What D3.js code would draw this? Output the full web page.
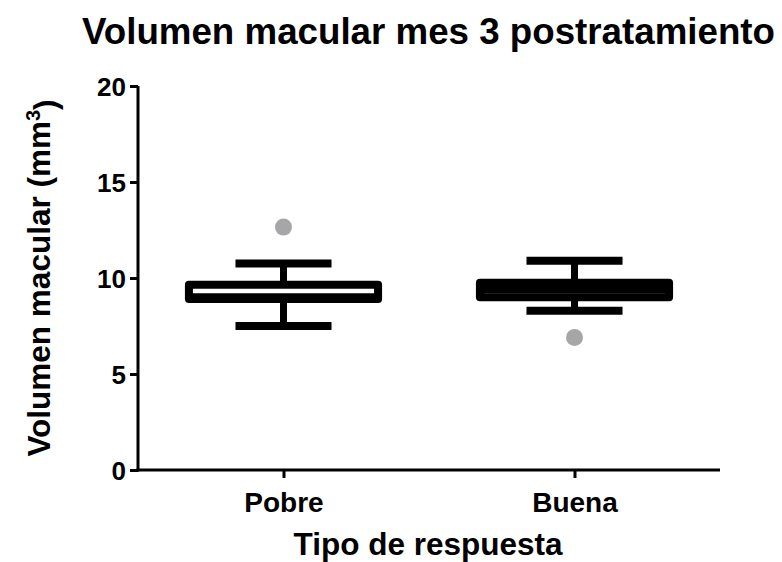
<!DOCTYPE html>
<html>
<head>
<meta charset="utf-8">
<script src="https://cdn.jsdelivr.net/npm/d3@7"></script>
<style>
  body { margin: 0; background: #fff; }
  text { font-family: "Liberation Sans", Arial, sans-serif; font-weight: bold; fill: #000; }
</style>
</head>
<body>
<div id="chart"></div>
<script>
// box plot values (mm3)
var categories = ["Pobre", "Buena"];
var whiskerLow = [7.5, 8.3];
var q1 = [8.9, 9.0];
var median = [9.0, 9.4];
var q3 = [9.65, 9.75];
var whiskerHigh = [10.75, 10.9];
var outliers = [[12.65], [6.9]];
var yTicks = [0, 5, 10, 15, 20];

var width = 782, height = 562;
var plotL = 138, plotR = 720, plotT = 86, plotB = 470;

var svg = d3.select("#chart").append("svg")
    .attr("width", width)
    .attr("height", height);

var x = d3.scalePoint()
    .domain(categories)
    .range([plotL, plotR])
    .padding(0.5);

var y = d3.scaleLinear()
    .domain([0, 20])
    .range([plotB, plotT]);

var step = x.step();
var boxW = step * 0.65;
var capW = step * 0.33;

// axes
var yAxis = svg.append("g")
    .attr("transform", "translate(" + plotL + ",0)")
    .call(d3.axisLeft(y).tickValues(yTicks).tickSize(8).tickPadding(4));
yAxis.select(".domain").attr("stroke-width", 3).attr("d", "M0," + (plotB + 1.5) + "V" + plotT);
yAxis.selectAll(".tick line").attr("stroke-width", 3);
yAxis.selectAll(".tick text").style("font-size", "26px").attr("dy", "0.36em");

var xAxis = svg.append("g")
    .attr("transform", "translate(0," + plotB + ")")
    .call(d3.axisBottom(x).tickSize(8).tickPadding(14));
xAxis.select(".domain").attr("stroke-width", 3).attr("d", "M" + (plotL - 1.5) + ",0H" + plotR);
xAxis.selectAll(".tick line").attr("stroke-width", 3);
xAxis.selectAll(".tick text").style("font-size", "28px");

// boxes
var g = svg.append("g");
categories.forEach(function (c, i) {
    var cx = x(c);
    // whiskers
    g.append("line")
        .attr("x1", cx).attr("x2", cx)
        .attr("y1", y(whiskerHigh[i])).attr("y2", y(q3[i]))
        .attr("stroke", "#000").attr("stroke-width", 7);
    g.append("line")
        .attr("x1", cx).attr("x2", cx)
        .attr("y1", y(q1[i])).attr("y2", y(whiskerLow[i]))
        .attr("stroke", "#000").attr("stroke-width", 7);
    [whiskerHigh[i], whiskerLow[i]].forEach(function (v) {
        g.append("line")
            .attr("x1", cx - capW / 2).attr("x2", cx + capW / 2)
            .attr("y1", y(v)).attr("y2", y(v))
            .attr("stroke", "#000").attr("stroke-width", 8);
    });
    g.append("rect")
        .attr("x", cx - boxW / 2)
        .attr("y", y(q3[i]))
        .attr("width", boxW)
        .attr("height", y(q1[i]) - y(q3[i]))
        .attr("fill", "#fff")
        .attr("stroke", "#000")
        .attr("stroke-width", 8)
        .attr("stroke-linejoin", "round");
    g.append("line")
        .attr("x1", cx - boxW / 2).attr("x2", cx + boxW / 2)
        .attr("y1", y(median[i])).attr("y2", y(median[i]))
        .attr("stroke", "#000").attr("stroke-width", 8);
    outliers[i].forEach(function (v) {
        g.append("circle")
            .attr("cx", cx).attr("cy", y(v))
            .attr("r", 8.5)
            .attr("fill", "#a6a6a8");
    });
});

// titles
svg.append("text")
    .attr("x", 82).attr("y", 44)
    .attr("textLength", 693).attr("lengthAdjust", "spacingAndGlyphs")
    .style("font-size", "36px")
    .text("Volumen macular mes 3 postratamiento");

svg.append("text")
    .attr("x", 428).attr("y", 555)
    .attr("text-anchor", "middle")
    .style("font-size", "31.5px")
    .text("Tipo de respuesta");

var yt = svg.append("text")
    .attr("transform", "translate(50," + 278 + ") rotate(-90)")
    .attr("text-anchor", "middle")
    .style("font-size", "31.5px");
yt.append("tspan").text("Volumen macular (mm");
yt.append("tspan").attr("dy", "-0.5em").style("font-size", "20px").text("3");
yt.append("tspan").attr("dy", "0.5em").text(")");
</script>
</body>
</html>
